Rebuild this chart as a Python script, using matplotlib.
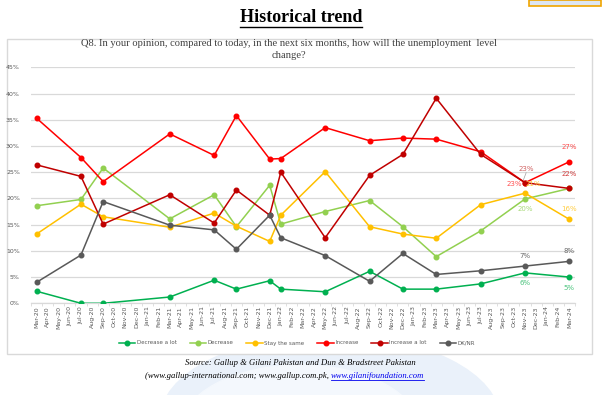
import matplotlib
matplotlib.use("Agg")
import matplotlib.pyplot as plt
from matplotlib.patches import Rectangle, Ellipse
import numpy as np

months = ["Mar-20","Apr-20","May-20","Jun-20","Jul-20","Aug-20","Sep-20","Oct-20","Nov-20","Dec-20",
          "Jan-21","Feb-21","Mar-21","Apr-21","May-21","Jun-21","Jul-21","Aug-21","Sep-21","Oct-21",
          "Nov-21","Dec-21","Jan-22","Feb-22","Mar-22","Apr-22","May-22","Jun-22","Jul-22","Aug-22",
          "Sep-22","Oct-22","Nov-22","Dec-22","Jan-23","Feb-23","Mar-23","Apr-23","May-23","Jun-23",
          "Jul-23","Aug-23","Sep-23","Oct-23","Nov-23","Dec-23","Jan-24","Feb-24","Mar-24"]
survey_months = ["Mar-20","Jul-20","Sep-20","Mar-21","Jul-21","Sep-21","Dec-21","Jan-22","May-22",
                 "Sep-22","Dec-22","Mar-23","Jul-23","Nov-23","Mar-24"]

decrease_a_lot = [2.3, 0.0, 0.0, 1.2, 4.4, 2.7, 4.3, 2.7, 2.2, 6.1, 2.7, 2.7, 3.7, 5.8, 5.0]
decrease       = [18.6, 19.8, 25.8, 16.1, 20.7, 14.6, 22.5, 15.1, 17.5, 19.6, 14.6, 8.9, 13.8, 19.9, 21.9]
stay_same      = [13.2, 18.9, 16.5, 14.5, 17.2, 14.7, 11.8, 16.8, 25.1, 14.6, 13.2, 12.4, 18.8, 21.0, 16.0]
increase       = [35.3, 27.8, 23.2, 32.3, 28.2, 35.8, 27.5, 27.6, 33.5, 31.0, 31.5, 31.3, 28.9, 23.0, 27.0]
increase_a_lot = [26.4, 24.2, 15.1, 20.7, 15.3, 21.6, 16.8, 25.0, 12.5, 24.4, 28.4, 39.1, 28.4, 23.0, 21.9]
dk_nr          = [4.0, 9.2, 19.4, 14.9, 14.0, 10.3, 16.8, 12.5, 9.1, 4.2, 9.5, 5.5, 6.2, 7.1, 8.0]

series_names = ["Decrease a lot", "Decrease", "Stay the same", "Increase", "Increase a lot", "DK/NR"]
series_vals = [decrease_a_lot, decrease, stay_same, increase, increase_a_lot, dk_nr]
colors = ["#00B050", "#92D050", "#FFC000", "#FF0000", "#C00000", "#595959"]
label_colors = ["#4CC47E", "#A9D97A", "#FFCD40", "#FF5050", "#D24040", "#6A6A6A"]

W, H = 602, 395
fig = plt.figure(figsize=(W/100, H/100), dpi=100)
fig.patch.set_facecolor("white")

def fx(px): return px / W
def fy(py): return 1 - py / H

# background watermark (faint)
bg = fig.add_axes([0, 0, 1, 1], zorder=-10)
bg.set_xlim(0, W); bg.set_ylim(H, 0); bg.axis("off")
bg.add_patch(Ellipse((330, 420), 340, 170, color="#EAF1FA", zorder=0))
bg.add_patch(Ellipse((300, 430), 240, 130, color="#F4F8FD", zorder=1))
# logo top-right
bg.add_patch(Rectangle((529, 0), 72, 6, facecolor="#DDE6F2", edgecolor="#F0A500", lw=1.2, zorder=2))
# chart box
bg.add_patch(Rectangle((6.5, 39), 585, 315, facecolor="white", edgecolor="#D9D9D9", lw=1, zorder=3))

# main title with underline
t = fig.text(0.5, fy(17), "Historical trend", ha="center", va="center",
             fontsize=13, fontweight="bold", family="Liberation Serif")
fig.canvas.draw()
bb = t.get_window_extent(renderer=fig.canvas.get_renderer())
bg.plot([bb.x0, bb.x1], [H - bb.y0 + 1, H - bb.y0 + 1], color="black", lw=1.0, zorder=4)

# chart title
fig.text(fx(289), fy(44), "Q8. In your opinion, compared to today, in the next six months, how will the unemployment  level",
         ha="center", va="center", fontsize=7.6, family="Liberation Serif", color="#404040")
fig.text(fx(289), fy(55), "change?", ha="center", va="center", fontsize=7.6,
         family="Liberation Serif", color="#404040")

ax = fig.add_axes([fx(31), fy(303.3), fx(575) - fx(31), fy(67.3) - fy(303.3)], zorder=5)
ax.set_facecolor("none")
xpos = [months.index(m) for m in survey_months]
handles = []
for name, vals, c in zip(series_names, series_vals, colors):
    h, = ax.plot(xpos, vals, color=c, lw=1.1, marker="o", markersize=3.3, label=name, zorder=3)
    handles.append(h)

ax.set_xlim(-0.5, len(months) - 0.5)
ax.set_ylim(0, 45)
ax.set_yticks(np.arange(0, 46, 5))
ax.set_yticklabels([f"{v}%" for v in range(0, 46, 5)])
ax.set_xticks(range(len(months)))
ax.set_xticklabels(months, rotation=90)
ax.tick_params(axis="y", length=0, labelsize=4.5, labelcolor="#595959", pad=8)
ax.tick_params(axis="x", length=0, labelsize=4.5, labelcolor="#595959", pad=2)
ax.set_xticks(np.arange(-0.5, len(months), 1), minor=True)
ax.tick_params(axis="x", which="minor", length=2.5, color="#D9D9D9", width=0.6)
ax.grid(axis="y", color="#D9D9D9", lw=0.9)
ax.set_axisbelow(True)
for s in ["top", "right", "left"]:
    ax.spines[s].set_visible(False)
ax.spines["bottom"].set_color("#D9D9D9")
ax.spines["bottom"].set_linewidth(0.9)

# data labels for last two points
nov, mar = months.index("Nov-23"), months.index("Mar-24")
lab = dict(fontsize=5, ha="center", va="center")
ax.text(nov - 1.0, increase[-2] - 0.2, "23%", color=label_colors[3], **lab)
ax.text(nov + 0.1, increase_a_lot[-2] + 2.6, "23%", color="#D06060", **lab)
ax.plot([nov + 0.1, nov - 0.15], [increase_a_lot[-2] + 1.9, increase_a_lot[-2] + 0.5], color="#A0A0A0", lw=0.5)
ax.text(mar, increase[-1] + 2.8, "27%", color=label_colors[3], **lab)
ax.text(mar, increase_a_lot[-1] + 2.8, "22%", color=label_colors[4], **lab)
ax.text(nov + 0.7, stay_same[-2] + 1.7, "21%", color=label_colors[2], **lab)
ax.text(mar, stay_same[-1] + 1.9, "16%", color=label_colors[2], **lab)
ax.text(nov, decrease[-2] - 1.9, "20%", color=label_colors[1], **lab)
ax.text(nov, dk_nr[-2] + 1.9, "7%", color=label_colors[5], **lab)
ax.text(mar, dk_nr[-1] + 1.9, "8%", color=label_colors[5], **lab)
ax.text(nov, decrease_a_lot[-2] - 1.9, "6%", color=label_colors[0], **lab)
ax.text(mar, decrease_a_lot[-1] - 2.0, "5%", color=label_colors[0], **lab)

fig.legend(handles=handles, loc="center", bbox_to_anchor=(fx(297), fy(343)), ncol=6,
           frameon=False, fontsize=4.0, handlelength=3.0, columnspacing=2.3, handletextpad=0.25,
           labelcolor="#595959")

fig.text(fx(300), fy(363), "Source: Gallup & Gilani Pakistan and Dun & Bradstreet Pakistan",
         ha="center", va="center", fontsize=6.2, style="italic", family="Liberation Serif")
t1 = fig.text(fx(145), fy(376), "(www.gallup-international.com; www.gallup.com.pk, ",
              ha="left", va="center", fontsize=6.2, style="italic", family="Liberation Serif")
fig.canvas.draw()
b1 = t1.get_window_extent(renderer=fig.canvas.get_renderer())
t2 = fig.text(b1.x1 / W, fy(376), "www.gilanifoundation.com", ha="left", va="center",
              fontsize=6.2, style="italic", family="Liberation Serif", color="#0000EE")
fig.canvas.draw()
b2 = t2.get_window_extent(renderer=fig.canvas.get_renderer())
bg.plot([b2.x0, b2.x1], [H - b2.y0, H - b2.y0], color="#0000EE", lw=0.6, zorder=4)

fig.savefig("out.png", dpi=100)
